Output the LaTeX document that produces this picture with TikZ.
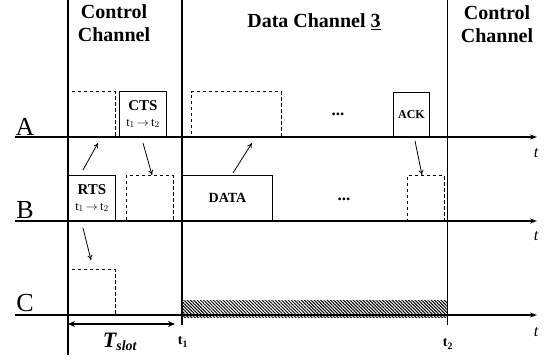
\documentclass[tikz,border=0pt]{standalone}
\usepackage{fontspec}
\setmainfont{Liberation Serif}
\usetikzlibrary{arrows.meta,patterns.meta}
\begin{document}
\begin{tikzpicture}[x=1pt,y=-1pt,
  vline/.style={line width=1.6pt},
  axis/.style={line width=1.1pt,-{Stealth[length=7pt,width=5pt]}},
  solidbox/.style={draw,line width=0.9pt,anchor=south west,inner sep=0pt,align=center},
  dashbox/.style={draw,dashed,dash pattern=on 3.5pt off 2.5pt,line width=0.9pt,anchor=south west,inner sep=0pt},
  msg/.style={line width=0.8pt,-{To[length=5pt,width=5pt]}},
  hdr/.style={font=\fontsize{20}{23}\selectfont\bfseries,align=center},
  rowlab/.style={font=\fontsize{26}{28}\selectfont},
  tlab/.style={font=\fontsize{16}{18}\selectfont\itshape},
  dotslab/.style={font=\fontsize{17}{18}\selectfont\bfseries}
]
\useasboundingbox (0,0) rectangle (551,360);
% headers
\node[hdr] (cc1) at (114,23) {Control\\Channel};
\node[hdr] (dc) at (314,22) {Data Channel \underline{3}};
\node[hdr] (cc2) at (497,24) {Control\\Channel};
% row labels
\node[rowlab] (la) at (25,127) {A};
\node[rowlab] (lb) at (25,210) {B};
\node[rowlab] (lc) at (25,303) {C};
% timelines
\coordinate (a0) at (15,137); \coordinate (a1) at (537,137);
\coordinate (b0) at (15,221); \coordinate (b1) at (537,221);
\coordinate (c0) at (15,315); \coordinate (c1) at (537,315);
\draw[axis] (a0) -- (a1);
\draw[axis] (b0) -- (b1);
\draw[axis] (c0) -- (c1);
\node[tlab] (ta) at (536,153) {t};
\node[tlab] (tb) at (536,236) {t};
\node[tlab] (tc) at (536,332) {t};
% hatch
\fill[pattern={Lines[angle=-45,distance=2.3pt,line width=1pt]}] (182,300) rectangle (447,317);
% boxes row A
\node[dashbox,minimum width=47pt,minimum height=45pt] (da) at (68,137) {};
\node[solidbox,minimum width=47pt,minimum height=45pt] (cts) at (119,137)
  {{\fontsize{15}{16}\selectfont\bfseries CTS}\\[4pt]{\fontsize{12.5}{13}\selectfont t$_1$\,$\rightarrow$\,t$_2$}};
\node[dashbox,minimum width=90pt,minimum height=45pt] (dda) at (191,137) {};
\node[dotslab] (dotsa) at (338,114) {...};
\node[solidbox,minimum width=36pt,minimum height=44pt,font=\fontsize{12}{13}\selectfont\bfseries] (ack) at (393,137) {ACK};
% boxes row B
\node[solidbox,minimum width=47pt,minimum height=45pt] (rts) at (68,221)
  {{\fontsize{15}{16}\selectfont\bfseries RTS}\\[4pt]{\fontsize{12.5}{13}\selectfont t$_1$\,$\rightarrow$\,t$_2$}};
\node[dashbox,minimum width=47pt,minimum height=45pt] (db) at (126,221) {};
\node[solidbox,minimum width=90pt,minimum height=45pt,font=\fontsize{14}{15}\selectfont\bfseries] (data) at (182,221) {DATA};
\node[dotslab] (dotsb) at (344,199) {...};
\node[dashbox,minimum width=37pt,minimum height=45pt] (ddb) at (407,221) {};
% box row C
\node[dashbox,minimum width=47pt,minimum height=45pt] (dc1) at (68,315) {};
% vertical lines
\coordinate (v0t) at (68,0); \coordinate (v0b) at (68,355);
\coordinate (v1t) at (182,0); \coordinate (v1b) at (182,325);
\coordinate (v2t) at (447.5,0); \coordinate (v2b) at (447.5,325);
\draw[vline] (v0t) -- (v0b);
\draw[vline] (v1t) -- (v1b);
\draw[vline] (v2t) -- (v2b);
% message arrows
\coordinate (m1s) at (83,170); \coordinate (m1e) at (98,143);
\coordinate (m2s) at (143,143); \coordinate (m2e) at (152,175);
\coordinate (m3s) at (233,173); \coordinate (m3e) at (252,143);
\coordinate (m4s) at (415,141); \coordinate (m4e) at (422,175);
\coordinate (m5s) at (83,228); \coordinate (m5e) at (91,260);
\draw[msg] (m1s) -- (m1e);
\draw[msg] (m2s) -- (m2e);
\draw[msg] (m3s) -- (m3e);
\draw[msg] (m4s) -- (m4e);
\draw[msg] (m5s) -- (m5e);
% T slot
\coordinate (ts0) at (68,324); \coordinate (ts1) at (175,324);
\draw[line width=1.3pt,{Stealth[length=7pt,width=6pt]}-{Stealth[length=7pt,width=6pt]}] (ts0) -- (ts1);
\node (tslot) at (120,342) {\fontsize{22}{24}\selectfont\bfseries\itshape T\textsubscript{\fontsize{14}{15}\selectfont slot}};
\node[font=\fontsize{14}{15}\selectfont\bfseries] (t1) at (183,342) {t\textsubscript{1}};
\node[font=\fontsize{14}{15}\selectfont\bfseries] (t2) at (448,344) {t\textsubscript{2}};
\end{tikzpicture}
\end{document}
